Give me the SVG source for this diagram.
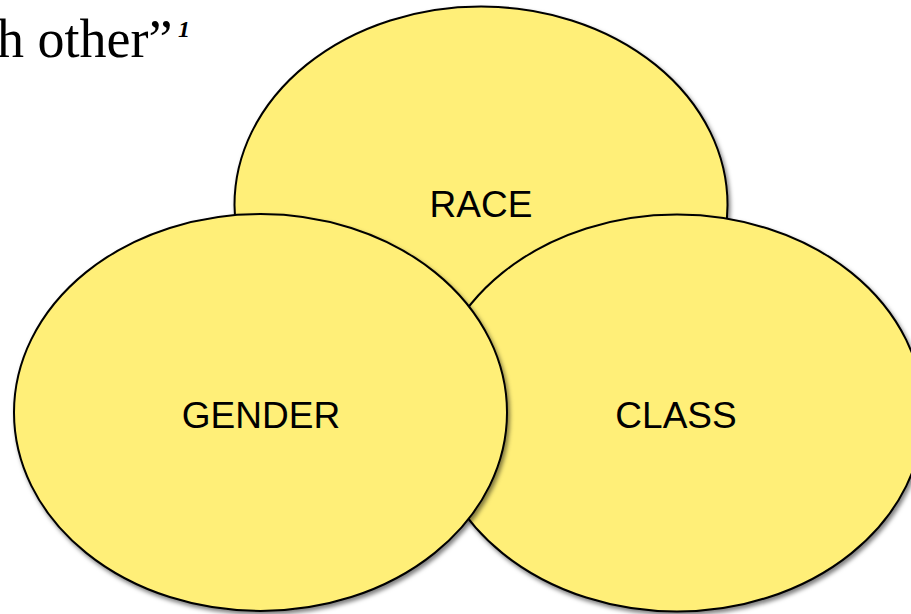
<svg xmlns="http://www.w3.org/2000/svg" width="911" height="614" viewBox="0 0 911 614">
  <style>
    .set { fill: #FFEF78; stroke: #000000; stroke-width: 2; filter: url(#shadow); }
    .label { font-family: "Liberation Sans", Arial, sans-serif; font-size: 37px; fill: #000000; text-anchor: middle; }
    .quote { font-family: "Liberation Serif", "Times New Roman", serif; font-size: 54px; fill: #000000; }
    .note { font-family: "Liberation Serif", "Times New Roman", serif; font-size: 24px; font-style: italic; font-weight: bold; fill: #000000; }
  </style>
  <defs>
    <filter id="shadow" x="-10%" y="-10%" width="125%" height="125%">
      <feDropShadow dx="2" dy="3" stdDeviation="2" flood-color="#000000" flood-opacity="0.5"/>
    </filter>
  </defs>
  <rect width="911" height="614" fill="#FFFFFF"/>

  <!-- tail of the quoted sentence with its footnote mark -->
  <text class="quote" x="-3" y="57">h other”</text>
  <text class="note" x="178" y="37">1</text>

  <!-- three overlapping sets; later ones sit on top -->
  <g id="race">
    <ellipse class="set" cx="481" cy="205" rx="246.5" ry="198.5"/>
    <text class="label" x="481" y="217">RACE</text>
  </g>
  <g id="class">
    <ellipse class="set" cx="677" cy="413" rx="246.5" ry="198.5"/>
    <text class="label" x="676" y="428">CLASS</text>
  </g>
  <g id="gender">
    <ellipse class="set" cx="260.5" cy="412.5" rx="246.5" ry="198.5"/>
    <text class="label" x="261" y="428">GENDER</text>
  </g>

  <g id="connectors"/>
</svg>
